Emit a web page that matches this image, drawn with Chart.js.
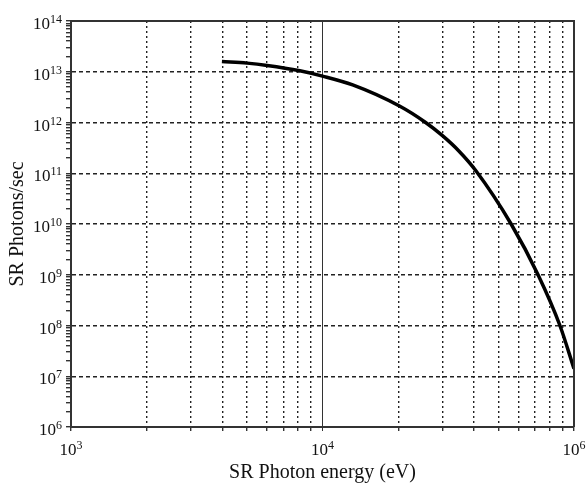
<!DOCTYPE html>
<html>
<head>
<meta charset="utf-8">
<script src="https://cdn.jsdelivr.net/npm/chart.js@4"></script>
<style>
html, body { margin: 0; padding: 0; background: #fff; }
#wrap { width: 588px; height: 485px; }
</style>
</head>
<body>
<div id="wrap"><canvas id="sr-chart"></canvas></div>
<script>
// curve (eV, photons/sec)
const energy = [3981, 5012, 6026, 8128, 10000, 13183, 20230, 25704, 29992, 34995, 40738, 56234, 71945, 87902, 100000];
const photons = [1.585e13, 1.479e13, 1.334e13, 1.047e13, 8.22e12, 5.50e12, 2.11e12, 1.0e12, 5.50e11, 2.69e11, 1.12e11, 1.0e10, 1.0e9, 1.0e8, 1.41e7];

const minorSteps = [1, 2, 3, 4, 5, 6, 7, 8, 9];
const xDecades = [1e3, 1e4];
const xEnd = 1e5;
const yDecades = [1e6, 1e7, 1e8, 1e9, 1e10, 1e11, 1e12, 1e13];
const yEnd = 1e14;

// labelled ticks: "10" with a raised exponent, as printed on the figure
const xLabelValues = [1e3, 1e4, 1e5];
const xLabelExps = ['3', '4', '6'];
const yLabelValues = [1e6, 1e7, 1e8, 1e9, 1e10, 1e11, 1e12, 1e13, 1e14];
const yLabelExps = ['6', '7', '8', '9', '10', '11', '12', '13', '14'];

const xTicks = xDecades.flatMap(d => minorSteps.map(m => m * d)).concat([xEnd]);
const yTicks = yDecades.flatMap(d => minorSteps.map(m => m * d)).concat([yEnd]);

const isDecade = v => Math.abs(Math.log10(v) - Math.round(Math.log10(v))) < 1e-9;
const serif = 'Liberation Serif, Times New Roman, serif';

const frame = {
	id: 'frame',
	afterDraw(chart) {
		const {ctx, chartArea: a} = chart;
		ctx.save();
		ctx.strokeStyle = '#333';
		ctx.lineWidth = 2;
		ctx.beginPath();
		ctx.moveTo(a.left, a.top);
		ctx.lineTo(a.right, a.top);
		ctx.lineTo(a.right, a.bottom);
		ctx.stroke();
		ctx.restore();
	}
};

const powerLabels = {
	id: 'powerLabels',
	afterDraw(chart) {
		const {ctx, scales: {x, y}} = chart;
		const put = (exp, px, base, align) => {
			ctx.font = '17px ' + serif;
			const wb = ctx.measureText('10').width;
			ctx.font = '12px ' + serif;
			const we = ctx.measureText(exp).width;
			const left = align === 'right' ? px - wb - we : px - (wb + we) / 2;
			ctx.font = '17px ' + serif;
			ctx.fillText('10', left, base);
			ctx.font = '12px ' + serif;
			ctx.fillText(exp, left + wb, base - 6);
		};
		ctx.save();
		ctx.fillStyle = '#111';
		ctx.textAlign = 'left';
		ctx.textBaseline = 'alphabetic';
		xLabelValues.forEach((v, i) => put(xLabelExps[i], x.getPixelForValue(v), x.top + 28, 'center'));
		yLabelValues.forEach((v, i) => put(yLabelExps[i], y.right - 9, y.getPixelForValue(v) + 8, 'right'));
		ctx.restore();
	}
};

let config = {
	type: 'scatter',
	data: {datasets: [{
		data: energy.map((e, i) => ({x: e, y: photons[i]})),
		showLine: true,
		borderColor: '#000',
		borderWidth: 3.5,
		pointRadius: 0,
		cubicInterpolationMode: 'monotone'
	}]},
	options: {
		responsive: true,
		maintainAspectRatio: false,
		animation: false,
		layout: {padding: {top: 21, right: 14, left: 0, bottom: 0}},
		plugins: {legend: {display: false}, tooltip: {enabled: false}},
		scales: {
			x: {
				type: 'logarithmic',
				min: 1e3,
				max: xEnd,
				afterBuildTicks: s => { s.ticks = xTicks.map(v => ({value: v})); },
				afterFit: s => { s.height = 58; s.paddingLeft = 0; s.paddingRight = 0; },
				ticks: {autoSkip: false, maxRotation: 0, callback: () => ''},
				grid: {
					color: c => (c.tick && c.tick.value === 1e4) ? '#333' : '#222',
					lineWidth: c => (c.tick && c.tick.value === 1e4) ? 1 : 1.4,
					tickColor: '#333',
					tickLength: 4
				},
				border: {display: true, color: '#333', width: 2,
					dash: c => (c.tick && c.tick.value === 1e4) ? [] : [2, 3]},
				title: {display: true, text: 'SR Photon energy (eV)', color: '#111',
					font: {family: serif, size: 20}, padding: {top: 4, bottom: 0}}
			},
			y: {
				type: 'logarithmic',
				min: 1e6,
				max: yEnd,
				afterBuildTicks: s => { s.ticks = yTicks.map(v => ({value: v})); },
				afterFit: s => { s.width = 71; s.paddingTop = 0; s.paddingBottom = 0; },
				ticks: {autoSkip: false, callback: () => ''},
				grid: {
					color: c => (c.tick && isDecade(c.tick.value)) ? '#222' : 'rgba(0,0,0,0)',
					lineWidth: 1.4,
					tickColor: '#333',
					tickLength: 5
				},
				border: {display: true, color: '#333', width: 2, dash: [4, 3]},
				title: {display: true, text: 'SR Photons/sec', color: '#111',
					font: {family: serif, size: 20}, padding: {top: 6, bottom: 0}}
			}
		}
	},
	plugins: [frame, powerLabels]
};

const srChart = new Chart(document.getElementById('sr-chart'), config);
</script>
</body>
</html>
